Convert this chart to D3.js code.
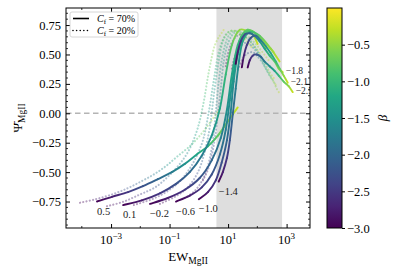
<!DOCTYPE html>
<html>
<head>
<meta charset="utf-8">
<script src="https://cdnjs.cloudflare.com/ajax/libs/d3/7.8.5/d3.min.js"></script>
<style>
  html, body { margin: 0; padding: 0; background: #fff; }
  svg { display: block; font-family: "Liberation Serif", "DejaVu Serif", serif; }
</style>
</head>
<body>
<div id="viz"></div>
<script>
// label of each track
const params = [0.5, 0.1, -0.2, -0.6, -1.0, -1.4, -1.8, -2.1, -2.5];
// tracks labelled at their end instead of their start
const endLabelled = [-1.8, -2.1, -2.5];
// beta at every sample along a track
const betaSteps = [-3.0, -2.75, -2.5, -2.25, -2.0, -1.75, -1.5, -1.25, -1.0, -0.75, -0.5, -0.25];

// C_f = 70% : log10(EW) and Psi
const logEW70 = [
  [-3.48, -2.97, -2.42, -1.91, -1.40, -0.92, -0.48, -0.07, 0.31, 0.65, 0.99, 1.33],
  [-2.59, -1.95, -1.33, -0.78, -0.31, 0.10, 0.44, 0.72, 0.92, 1.13, 1.40, 1.81],
  [-1.67, -1.06, -0.48, 0.03, 0.44, 0.75, 0.96, 1.13, 1.33, 1.60, 1.84, 2.01],
  [-0.78, -0.31, 0.10, 0.44, 0.72, 0.92, 1.06, 1.23, 1.40, 1.67, 2.01, 2.29],
  [0.00, 0.31, 0.58, 0.78, 0.96, 1.09, 1.19, 1.33, 1.54, 1.81, 2.18, 2.56],
  [0.68, 0.82, 0.96, 1.06, 1.16, 1.26, 1.37, 1.50, 1.74, 2.08, 2.46, 2.76],
  [1.26, 1.33, 1.43, 1.57, 1.74, 1.91, 2.08, 2.25, 2.42, 2.59, 2.73, 2.87],
  [1.47, 1.54, 1.64, 1.77, 1.95, 2.12, 2.29, 2.46, 2.63, 2.76, 2.90, 3.04],
  [1.67, 1.74, 1.84, 1.98, 2.12, 2.25, 2.42, 2.59, 2.73, 2.90, 3.07, 3.21]
];
const psi70 = [
  [-0.75, -0.71, -0.67, -0.62, -0.56, -0.50, -0.43, -0.35, -0.28, -0.19, -0.07, 0.05],
  [-0.78, -0.74, -0.68, -0.60, -0.50, -0.36, -0.19, 0.04, 0.33, 0.58, 0.71, 0.68],
  [-0.77, -0.72, -0.65, -0.55, -0.40, -0.21, 0.03, 0.33, 0.58, 0.70, 0.67, 0.59],
  [-0.75, -0.70, -0.63, -0.52, -0.35, -0.14, 0.11, 0.41, 0.62, 0.71, 0.66, 0.55],
  [-0.73, -0.67, -0.57, -0.42, -0.23, 0.01, 0.27, 0.50, 0.66, 0.70, 0.62, 0.52],
  [-0.58, -0.50, -0.38, -0.23, -0.01, 0.21, 0.44, 0.61, 0.69, 0.66, 0.55, 0.44],
  [0.42, 0.52, 0.61, 0.67, 0.68, 0.66, 0.61, 0.55, 0.49, 0.44, 0.38, 0.35],
  [0.39, 0.49, 0.58, 0.64, 0.66, 0.62, 0.57, 0.51, 0.44, 0.38, 0.32, 0.26],
  [0.39, 0.45, 0.49, 0.50, 0.48, 0.44, 0.40, 0.36, 0.32, 0.27, 0.23, 0.18]
];

// C_f = 20% : log10(EW) and Psi
const logEW20 = [
  [-4.06, -3.52, -2.97, -2.46, -1.98, -1.54, -1.13, -0.75, -0.31, 0.07, 0.41, 0.72],
  [-3.14, -2.56, -2.01, -1.50, -1.06, -0.65, -0.31, -0.03, 0.17, 0.34, 0.55, 0.85],
  [-2.22, -1.60, -1.06, -0.58, -0.17, 0.14, 0.34, 0.51, 0.68, 0.92, 1.23, 1.54],
  [-1.33, -0.82, -0.38, -0.03, 0.20, 0.38, 0.51, 0.65, 0.82, 1.09, 1.43, 1.81],
  [-0.48, -0.14, 0.14, 0.34, 0.48, 0.58, 0.68, 0.82, 1.02, 1.33, 1.71, 2.12],
  [0.14, 0.31, 0.44, 0.55, 0.65, 0.75, 0.85, 1.02, 1.26, 1.60, 2.01, 2.42],
  [0.92, 0.99, 1.09, 1.23, 1.40, 1.60, 1.81, 1.98, 2.15, 2.29, 2.42, 2.56],
  [1.13, 1.19, 1.30, 1.43, 1.60, 1.77, 1.95, 2.12, 2.25, 2.39, 2.53, 2.66],
  [1.33, 1.43, 1.54, 1.67, 1.84, 1.98, 2.15, 2.29, 2.42, 2.56, 2.66, 2.76]
];
const psi20 = [
  [-0.76, -0.73, -0.69, -0.64, -0.58, -0.52, -0.45, -0.37, -0.28, -0.18, -0.07, 0.04],
  [-0.79, -0.75, -0.69, -0.63, -0.54, -0.43, -0.30, -0.12, 0.10, 0.35, 0.58, 0.71],
  [-0.78, -0.73, -0.66, -0.56, -0.41, -0.23, 0.01, 0.28, 0.52, 0.67, 0.70, 0.62],
  [-0.77, -0.71, -0.63, -0.50, -0.33, -0.11, 0.15, 0.40, 0.61, 0.70, 0.67, 0.56],
  [-0.72, -0.66, -0.56, -0.42, -0.23, 0.01, 0.27, 0.50, 0.66, 0.70, 0.62, 0.50],
  [-0.57, -0.48, -0.36, -0.21, -0.01, 0.21, 0.44, 0.61, 0.69, 0.67, 0.57, 0.44],
  [0.40, 0.50, 0.58, 0.64, 0.67, 0.65, 0.60, 0.54, 0.47, 0.41, 0.35, 0.30],
  [0.38, 0.45, 0.52, 0.57, 0.60, 0.58, 0.53, 0.47, 0.40, 0.34, 0.28, 0.23],
  [0.37, 0.43, 0.48, 0.51, 0.52, 0.49, 0.44, 0.38, 0.32, 0.27, 0.21, 0.17]
];

const yTicks = [-0.75, -0.5, -0.25, 0, 0.25, 0.5, 0.75];
const xTickExp = [-3, -1, 1, 3];
const xMinorExp = [-4, -2, 0, 2];
const betaTicks = [-3.0, -2.5, -2.0, -1.5, -1.0, -0.5];
const shadeEW = [4, 700];
const legendItems = ["70%", "20%"];

const W = 399, H = 272;
const m = { left: 66, top: 8, right: 310, bottom: 228 };

const svg = d3.select("#viz").append("svg").attr("width", W).attr("height", H);
const defs = svg.append("defs");

const x = d3.scaleLog().domain([Math.pow(10, -4.54), Math.pow(10, 3.8)]).range([m.left, m.right]);
const y = d3.scaleLinear().domain([-0.975, 0.895]).range([m.bottom, m.top]);
const color = d3.scaleSequential(d3.interpolateViridis).domain([-3, 0]);

defs.append("clipPath").attr("id", "plot-clip")
  .append("rect").attr("x", m.left).attr("y", m.top)
  .attr("width", m.right - m.left).attr("height", m.bottom - m.top);

const plot = svg.append("g").attr("clip-path", "url(#plot-clip)");

// shaded EW band
plot.append("rect")
  .attr("x", x(shadeEW[0])).attr("y", m.top)
  .attr("width", x(shadeEW[1]) - x(shadeEW[0])).attr("height", m.bottom - m.top)
  .attr("fill", "#dedede");

// zero line
plot.append("line")
  .attr("x1", m.left).attr("x2", m.right).attr("y1", y(0)).attr("y2", y(0))
  .attr("stroke", "#b4b4b4").attr("stroke-width", 1.5).attr("stroke-dasharray", "5.5,3.5");

// one bezier piece per pair of samples (uniform catmull-rom)
function pieces(lg, ps) {
  const pts = lg.map((v, i) => [x(Math.pow(10, v)), y(ps[i])]);
  const n = pts.length;
  const out = [];
  for (let i = 0; i < n - 1; i++) {
    const p0 = pts[Math.max(i - 1, 0)], p1 = pts[i], p2 = pts[i + 1], p3 = pts[Math.min(i + 2, n - 1)];
    const c1 = [p1[0] + (p2[0] - p0[0]) / 6, p1[1] + (p2[1] - p0[1]) / 6];
    const c2 = [p2[0] - (p3[0] - p1[0]) / 6, p2[1] - (p3[1] - p1[1]) / 6];
    out.push({ i, p1, p2, c1, c2 });
  }
  return out;
}

function drawTrack(g, lg, ps, id, width) {
  const segs = pieces(lg, ps);
  segs.forEach((s) => {
    const gid = `${id}-${s.i}`;
    const grad = defs.append("linearGradient").attr("id", gid)
      .attr("gradientUnits", "userSpaceOnUse")
      .attr("x1", s.p1[0]).attr("y1", s.p1[1]).attr("x2", s.p2[0]).attr("y2", s.p2[1]);
    grad.append("stop").attr("offset", 0).attr("stop-color", color(betaSteps[s.i]));
    grad.append("stop").attr("offset", 1).attr("stop-color", color(betaSteps[s.i + 1]));
    g.append("path")
      .attr("d", `M${s.p1}C${s.c1} ${s.c2} ${s.p2}`)
      .attr("fill", "none")
      .attr("stroke", `url(#${gid})`)
      .attr("stroke-width", width)
      .attr("stroke-linecap", "round");
  });
  return segs;
}

// C_f = 20%, dotted and faint
params.forEach((p, k) => {
  const segs = pieces(logEW20[k], psi20[k]);
  const full = segs.map((s, j) => (j === 0 ? `M${s.p1}` : "") + `C${s.c1} ${s.c2} ${s.p2}`).join("");
  const mask = defs.append("mask").attr("id", `dot-mask-${k}`)
    .attr("maskUnits", "userSpaceOnUse").attr("x", 0).attr("y", 0).attr("width", W).attr("height", H);
  mask.append("path").attr("d", full).attr("fill", "none")
    .attr("stroke", "#fff").attr("stroke-width", 2.2)
    .attr("stroke-linecap", "round").attr("stroke-dasharray", "0.01,3.3");
  const g = plot.append("g").attr("mask", `url(#dot-mask-${k})`).attr("opacity", 0.38);
  drawTrack(g, logEW20[k], psi20[k], `d20-${k}`, 3);
});

// C_f = 70%, solid
params.forEach((p, k) => {
  const g = plot.append("g");
  drawTrack(g, logEW70[k], psi70[k], `d70-${k}`, 1.9);
});

// track labels
const fmtLab = d3.format(".1f");
params.forEach((p, k) => {
  const lg = logEW70[k], ps = psi70[k];
  const atEnd = endLabelled.includes(p);
  const j = atEnd ? lg.length - 1 : 0;
  const px = x(Math.pow(10, lg[j])), py = y(ps[j]);
  plot.append("text")
    .attr("x", atEnd ? px + 3 : px)
    .attr("y", atEnd ? py + 2 : py + 13)
    .attr("font-size", atEnd ? 9.5 : 10.5)
    .attr("fill", "#222")
    .text(fmtLab(p));
});

// axes
const fmtY = d3.format(".2f");
svg.append("g").attr("transform", `translate(${m.left},0)`)
  .call(d3.axisLeft(y).tickValues(yTicks).tickFormat(fmtY).tickSizeInner(-4).tickSizeOuter(0).tickPadding(5))
  .call((g) => g.select(".domain").remove())
  .call((g) => g.selectAll("text").attr("font-size", 12.5).attr("font-family", "Liberation Serif"));
svg.append("g").attr("transform", `translate(${m.right},0)`)
  .call(d3.axisRight(y).tickValues(yTicks).tickFormat("").tickSizeInner(-4).tickSizeOuter(0))
  .call((g) => g.select(".domain").remove());

// minor y ticks
const yMinor = d3.range(-0.95, 0.89, 0.05).filter((v) => !yTicks.some((t) => Math.abs(t - v) < 1e-6));
svg.append("g").selectAll("line").data(yMinor).join("line")
  .attr("x1", m.left).attr("x2", m.left + 2).attr("y1", (d) => y(d)).attr("y2", (d) => y(d))
  .attr("stroke", "#000").attr("stroke-width", 0.8);
svg.append("g").selectAll("line").data(yMinor).join("line")
  .attr("x1", m.right).attr("x2", m.right - 2).attr("y1", (d) => y(d)).attr("y2", (d) => y(d))
  .attr("stroke", "#000").attr("stroke-width", 0.8);

const xMajor = xTickExp.map((e) => Math.pow(10, e));
svg.append("g").attr("transform", `translate(0,${m.bottom})`)
  .call(d3.axisBottom(x).tickValues(xMajor).tickFormat("").tickSizeInner(-4).tickSizeOuter(0))
  .call((g) => g.select(".domain").remove());
svg.append("g").attr("transform", `translate(0,${m.top})`)
  .call(d3.axisTop(x).tickValues(xMajor).tickFormat("").tickSizeInner(-4).tickSizeOuter(0))
  .call((g) => g.select(".domain").remove());
const xMinor = xMinorExp.map((e) => Math.pow(10, e));
[m.bottom, m.top].forEach((yy) => {
  svg.append("g").selectAll("line").data(xMinor).join("line")
    .attr("x1", (d) => x(d)).attr("x2", (d) => x(d))
    .attr("y1", yy).attr("y2", yy === m.bottom ? yy - 2 : yy + 2)
    .attr("stroke", "#000").attr("stroke-width", 0.8);
});
const fmtE = d3.format("d");
xTickExp.forEach((e) => {
  const t = svg.append("text")
    .attr("x", x(Math.pow(10, e))).attr("y", m.bottom + 16)
    .attr("text-anchor", "middle").attr("font-size", 12.5);
  t.append("tspan").text("10");
  t.append("tspan").attr("dy", -5).attr("font-size", 9).text(fmtE(e));
});

// frame
svg.append("rect")
  .attr("x", m.left).attr("y", m.top)
  .attr("width", m.right - m.left).attr("height", m.bottom - m.top)
  .attr("fill", "none").attr("stroke", "#000").attr("stroke-width", 1);

// axis titles
const xt = svg.append("text").attr("x", (m.left + m.right) / 2).attr("y", 261)
  .attr("text-anchor", "middle").attr("font-size", 13);
xt.append("tspan").text("EW");
xt.append("tspan").attr("dy", 3).attr("font-size", 9.5).text("MgII");

const yt = svg.append("text")
  .attr("transform", `translate(22,${(m.top + m.bottom) / 2}) rotate(-90)`)
  .attr("text-anchor", "middle").attr("font-size", 13);
yt.append("tspan").text("\u03A8\u0304");
yt.append("tspan").attr("dy", 3).attr("font-size", 9.5).text("MgII");

// legend
const lg = svg.append("g").attr("transform", "translate(70,12)");
lg.append("rect").attr("width", 68).attr("height", 25).attr("rx", 2)
  .attr("fill", "#fff").attr("fill-opacity", 0.85).attr("stroke", "#ccc").attr("stroke-width", 0.8);
legendItems.forEach((lab, i) => {
  const yy = 6.5 + i * 12;
  lg.append("line").attr("x1", 3).attr("x2", 19).attr("y1", yy).attr("y2", yy)
    .attr("stroke", "#000").attr("stroke-width", 1.6)
    .attr("stroke-linecap", i ? "round" : "butt")
    .attr("stroke-dasharray", i ? "0.01,3.6" : null);
  const t = lg.append("text").attr("x", 27).attr("y", yy + 3.2).attr("font-size", 10);
  t.append("tspan").attr("font-style", "italic").text("C");
  t.append("tspan").attr("dy", 2).attr("font-size", 7).text("f");
  t.append("tspan").attr("dy", -2).text(" = " + lab);
});

// colorbar
const cb = { x: 327, w: 15 };
const cy = d3.scaleLinear().domain([-3, 0]).range([m.bottom, m.top]);
const cg = defs.append("linearGradient").attr("id", "cbar")
  .attr("x1", 0).attr("y1", 1).attr("x2", 0).attr("y2", 0);
d3.range(0, 1.0001, 0.1).forEach((t) => {
  cg.append("stop").attr("offset", t).attr("stop-color", d3.interpolateViridis(t));
});
svg.append("rect").attr("x", cb.x).attr("y", m.top).attr("width", cb.w).attr("height", m.bottom - m.top)
  .attr("fill", "url(#cbar)").attr("stroke", "#000").attr("stroke-width", 1);
svg.append("g").attr("transform", `translate(${cb.x + cb.w},0)`)
  .call(d3.axisRight(cy).tickValues(betaTicks).tickFormat(d3.format(".1f")).tickSizeInner(3).tickSizeOuter(0).tickPadding(2))
  .call((g) => g.select(".domain").remove())
  .call((g) => g.selectAll("text").attr("font-size", 12.5).attr("font-family", "Liberation Serif"));
svg.append("text")
  .attr("transform", `translate(387,${(m.top + m.bottom) / 2}) rotate(-90)`)
  .attr("text-anchor", "middle").attr("font-size", 13).attr("font-style", "italic")
  .text("\u03B2");
</script>
</body>
</html>
